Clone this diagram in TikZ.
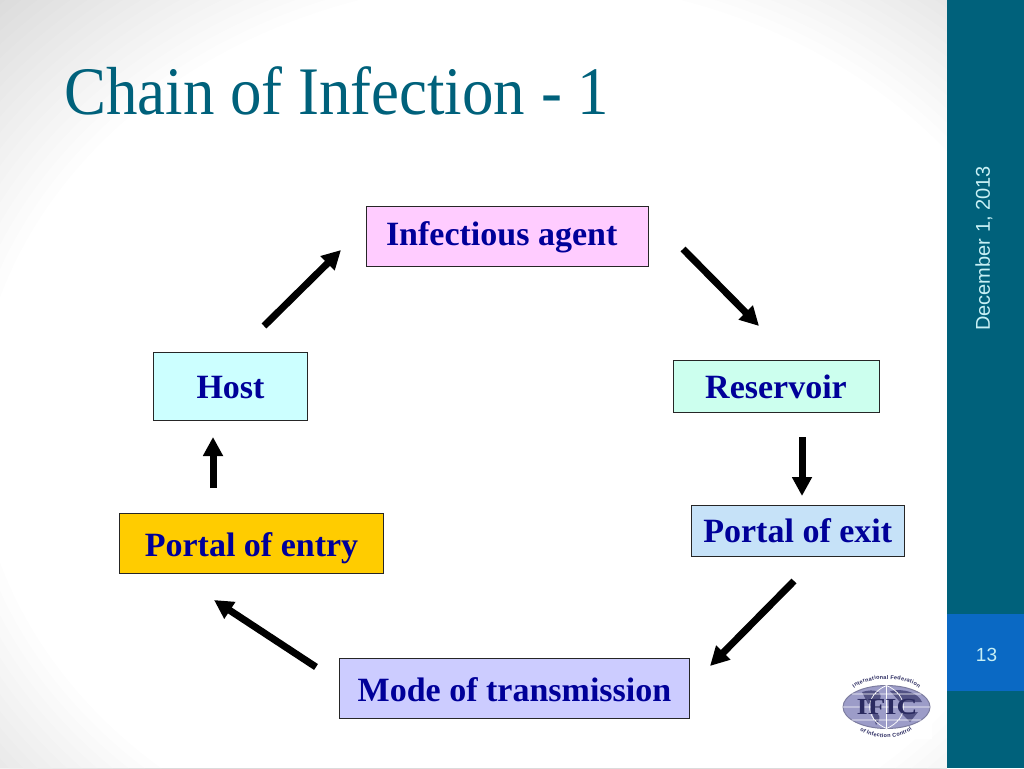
\documentclass[tikz,border=0pt]{standalone}
\usepackage{fontspec}
\setmainfont{Liberation Serif}
\newfontfamily\sidefont{Liberation Sans}
\usetikzlibrary{arrows.meta, positioning, decorations.text}
\definecolor{sideteal}{HTML}{00617B}
\definecolor{pageblue}{HTML}{0A69C4}
\definecolor{datecyan}{HTML}{C8F0F5}
\definecolor{labelblue}{HTML}{000099}
\definecolor{logolilac}{HTML}{9C9CC8}
\definecolor{logodark}{HTML}{2A2A60}
\tikzset{%
	linkbox/.style={
		draw=black!85,
		line width=0.8pt,
		font=\bfseries\fontsize{34}{34}\selectfont,
		text=labelblue,
		inner sep=0pt,
		outer sep=0pt,
		text height=24pt,
		text depth=0pt,
		anchor=north west
	},
	linkarrow/.style={
		-{Triangle[length=19pt,width=19pt]},
		line width=7pt,
		black
	},
	ringtext/.style={
		postaction={decorate,decoration={text along path,text align={fit to path},text={#1}}}
	},
}
\begin{document}
\begin{tikzpicture}[x=1pt,y=-1pt]
	\useasboundingbox (0,0) rectangle (1024,768);
	% slide background
	\begin{scope}
		\clip (0,0) rectangle (947,768);
		\foreach \k in {0.74,0.755,...,1.0}
			\fill[black,opacity=0.008,even odd rule] (0,0) rectangle (947,768)
				(520,430) ellipse [x radius=735*\k pt,y radius=608*\k pt];
	\end{scope}
	\fill[sideteal] (947,0) rectangle (1024,768);
	\fill[pageblue] (947,614) rectangle (1024,691);
	\node[text=datecyan,font=\sidefont\fontsize{19}{19}\selectfont] (pagenum) at (986.5,655) {13};
	\node[rotate=90,text=datecyan,font=\sidefont\fontsize{20}{20}\selectfont] (slidedate) at (984,248.5) {December 1, 2013};
	\node[anchor=west,xscale=0.925,inner sep=0pt,text=sideteal,font=\fontsize{68}{68}\selectfont] (slidetitle) at (64,91) {Chain of Infection - 1};

	% the six links
	\node[linkbox,fill={rgb,255:red,255;green,204;blue,255},minimum width=282pt,minimum height=60pt,text height=18pt] (agent) at (366.5,206.5) {\makebox[282pt][l]{\hspace{19.5pt}Infectious agent}};
	\node[linkbox,fill={rgb,255:red,204;green,255;blue,238},minimum width=206pt,minimum height=52pt] (reservoir) at (673,360) {Reservoir};
	\node[linkbox,fill={rgb,255:red,198;green,226;blue,248},minimum width=213.5pt,minimum height=51.5pt] (exit) at (691,505) {Portal of exit\hspace{2pt}};
	\node[linkbox,fill={rgb,255:red,204;green,204;blue,255},minimum width=350pt,minimum height=60pt,text height=26pt] (mode) at (339.5,658.5) {Mode of transmission};
	\node[linkbox,fill={rgb,255:red,255;green,204;blue,0},minimum width=264pt,minimum height=60pt,text height=26pt] (entry) at (119.5,513.5) {Portal of entry};
	\node[linkbox,fill={rgb,255:red,204;green,255;blue,255},minimum width=154pt,minimum height=68pt,text height=25pt] (host) at (153.5,352) {Host};

	% arrow ends
	\coordinate (a1) at (683,249);
	\coordinate (a2) at (759,326);
	\coordinate (b1) at (802,437);
	\coordinate (b2) at (802,496);
	\coordinate (c1) at (794,581);
	\coordinate (c2) at (710,666);
	\coordinate (d1) at (316,667);
	\coordinate (d2) at (214,600);
	\coordinate (e1) at (213,488);
	\coordinate (e2) at (213,437);
	\coordinate (f1) at (264,326);
	\coordinate (f2) at (341,250);
	\draw[linkarrow] (a1) -- (a2);
	\draw[linkarrow] (b1) -- (b2);
	\draw[linkarrow] (c1) -- (c2);
	\draw[linkarrow] (d1) -- (d2);
	\draw[linkarrow] (e1) -- (e2);
	\draw[linkarrow] (f1) -- (f2);

	% logo
	\fill[white] (842,672) rectangle (932,739);
	\draw[logolilac!80!black,fill=logolilac,line width=1pt] (886.5,707) ellipse (43.5pt and 21.5pt);
	\fill[logodark!65!logolilac] (862,692) .. controls (875,688) and (883,692) .. (880,699) -- (868,704) -- cycle;
	\fill[logodark!65!logolilac] (890,691) .. controls (905,688) and (918,693) .. (922,702) -- (900,702) -- cycle;
	\fill[logodark!65!logolilac] (872,712) .. controls (880,712) and (882,718) .. (876,725) -- cycle;
	\fill[logodark!65!logolilac] (900,712) -- (918,712) -- (910,722) -- cycle;
	\draw[white,line width=0.7pt] (886.5,685.5) -- (886.5,728.5) (843,707) -- (930,707)
		(852,694) -- (921,694) (852,720) -- (921,720)
		(886.5,685.5) .. controls (864,695) and (864,719) .. (886.5,728.5)
		(886.5,685.5) .. controls (909,695) and (909,719) .. (886.5,728.5);
	\node[text=logodark,xscale=1.25,inner sep=0pt,font=\bfseries\fontsize{23}{23}\selectfont] (logoname) at (887,707) {IFIC};
	\path[ringtext={|\sidefont\bfseries\fontsize{5.5}{5.5}\selectfont\color{logodark}|International Federation}]
		(854,688) .. controls (870,676) and (903,676) .. (919,688);
	\path[ringtext={|\sidefont\bfseries\fontsize{5.5}{5.5}\selectfont\color{logodark}|of Infection Control}]
		(860,730) .. controls (872,740) and (900,740) .. (912,730);
\end{tikzpicture}
\end{document}
